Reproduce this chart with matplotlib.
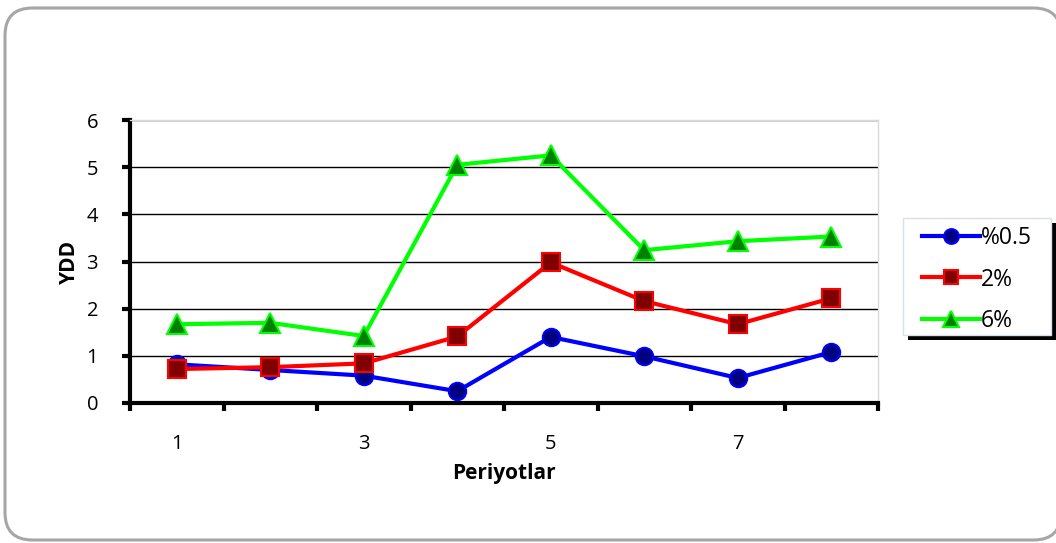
#!/usr/bin/env python3
import matplotlib
matplotlib.use('Agg')
from matplotlib.pyplot import figure
from matplotlib.patches import FancyBboxPatch, Rectangle
from matplotlib.ticker import FixedLocator

# %% data
periods = [1, 2, 3, 4, 5, 6, 7, 8]
xticklabels = ['1', '', '3', '', '5', '', '7', '']
yticks = [0, 1, 2, 3, 4, 5, 6]
s05 = [0.82, 0.70, 0.58, 0.25, 1.40, 0.99, 0.53, 1.08]
s2 = [0.72, 0.76, 0.84, 1.41, 2.98, 2.16, 1.67, 2.22]
s6 = [1.67, 1.70, 1.42, 5.05, 5.25, 3.24, 3.43, 3.53]
names = ['%0.5', '2%', '6%']

fam = ['Open Sans', 'DejaVu Sans']
W, H = 1056, 543

fg = figure(figsize=(W/100, H/100), dpi=100)
# rounded chart-area frame
fg.patches.append(FancyBboxPatch((5/W, 3/H), 1056/W, 532/H,
                                 boxstyle='round,pad=0,rounding_size=0.026',
                                 transform=fg.transFigure, facecolor='white',
                                 edgecolor='#a6a6a6', linewidth=2.2, zorder=-5,
                                 mutation_aspect=W/H))
#%% legend box with hard black shadow (drawn by hand, excel style)
lx0, ly0, lw, lh = 903, 218, 148, 117
fg.patches.append(Rectangle(((lx0+5)/W, (H-ly0-lh-5)/H), lw/W, lh/H,
                            transform=fg.transFigure, facecolor='black',
                            edgecolor='none', zorder=-2))
fg.patches.append(Rectangle((lx0/W, (H-ly0-lh)/H), lw/W, lh/H,
                            transform=fg.transFigure, facecolor='white',
                            edgecolor='#d9e0ee', lw=1, zorder=-1))

ax = fg.add_axes([130/W, 140/H, 748/W, 283/H])
ax.patch.set_alpha(0)

styles = [dict(color='#0000ff', marker='o', mfc='#000080', mec='#0000ff', ms=12.5),
          dict(color='#ff0000', marker='s', mfc='#800000', mec='#ff0000', ms=12.5),
          dict(color='#00ff00', marker='^', mfc='#008000', mec='#00ff00', ms=14)]
for ys, nm, st in zip((s05, s2, s6), names, styles):
    ax.plot(periods, ys, lw=3, mew=1.5, label=nm, clip_on=False, zorder=3, **st)

ax.set_xlim(0.5, 8.5)
ax.set_ylim(0, 6)

# category boundaries carry the tick marks, labels sit at category centres
ax.xaxis.set_major_locator(FixedLocator([p - 0.5 for p in periods] + [periods[-1] + 0.5]))
ax.xaxis.set_minor_locator(FixedLocator(periods))
ax.set_xticklabels([], minor=False)
ax.set_xticklabels(xticklabels, minor=True, fontsize=14.5, family=fam)
ax.tick_params(axis='x', which='minor', length=0, pad=22)
ax.tick_params(axis='x', which='major', direction='out', length=6, width=3)

ax.set_yticks(yticks)
ax.set_yticklabels([str(v) for v in yticks], fontsize=14.5, family=fam)
ax.tick_params(axis='y', direction='out', length=6, width=3, pad=17)

ax.yaxis.grid(True, color='black', lw=1)
ax.set_axisbelow(True)
for s in ('left', 'bottom'):
    ax.spines[s].set_linewidth(3)
for s in ('top', 'right'):
    ax.spines[s].set_color('#d9d9d9')
    ax.spines[s].set_linewidth(1)

ax.set_xlabel('Periyotlar', fontsize=15, fontweight='bold', family=fam, labelpad=7)
ax.set_ylabel('YDD', fontsize=15, fontweight='bold', family=fam, labelpad=5)

leg = ax.legend(loc='center', bbox_to_anchor=((lx0+lw/2)/W, (H-ly0-lh/2-3)/H),
                bbox_transform=fg.transFigure, frameon=False,
                prop={'family': fam, 'size': 16.5}, handlelength=2.5,
                handletextpad=0.05, borderpad=0, labelspacing=0.75,
                markerscale=0.85)

fg.savefig('out.png', dpi=100)
